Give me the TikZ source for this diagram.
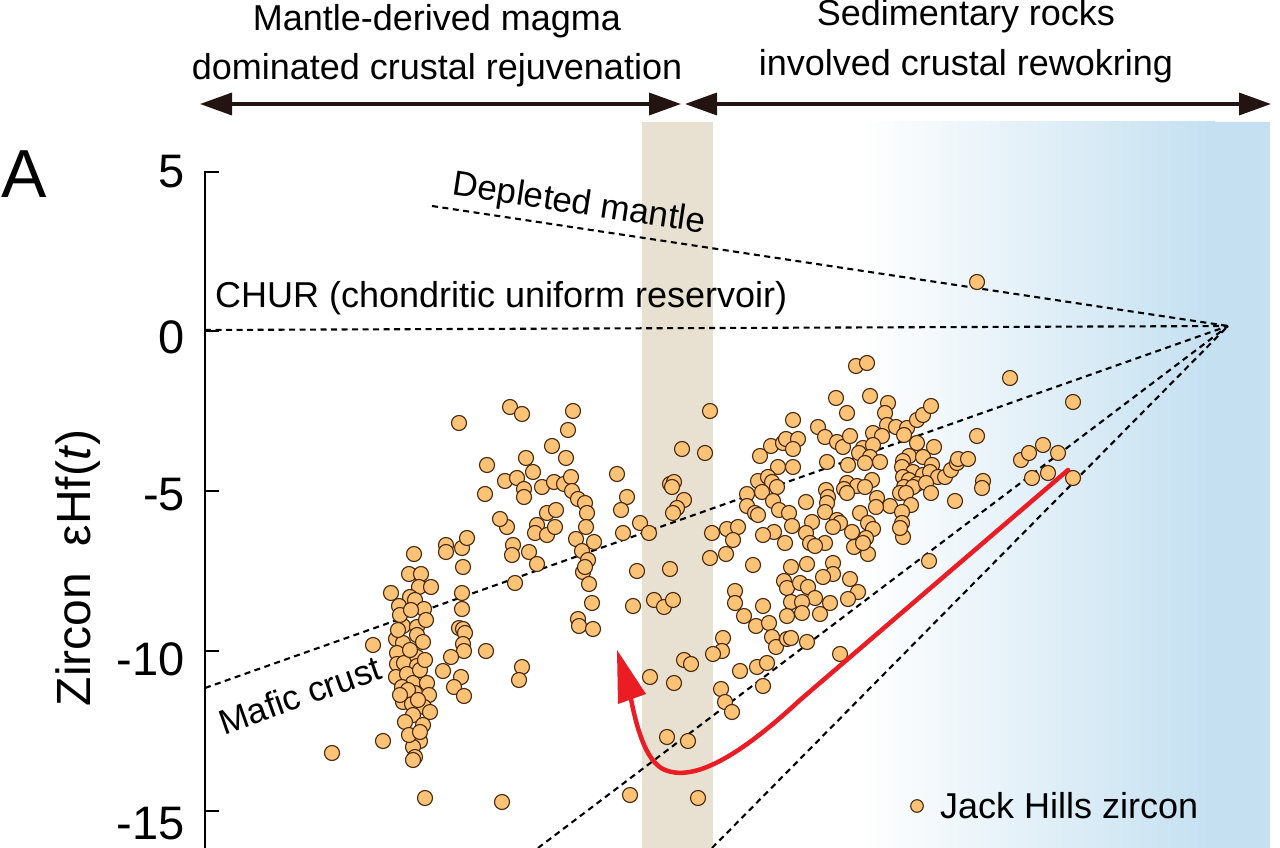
\documentclass[tikz,border=0pt]{standalone}
\usepackage{fontspec}
\setmainfont{Liberation Sans}
\usetikzlibrary{arrows.meta}
\definecolor{dotfill}{RGB}{252,194,118}
\definecolor{dotedge}{RGB}{70,40,15}
\definecolor{beigeband}{RGB}{232,225,210}
\definecolor{skyband}{RGB}{196,224,241}
\definecolor{arrowc}{RGB}{35,20,18}
\definecolor{redc}{RGB}{236,28,36}
\begin{document}
\begin{tikzpicture}[x=1pt,y=-1pt,
  zdot/.style={fill=dotfill,draw=dotedge,line width=1.1pt},
  refline/.style={dash pattern=on 6pt off 4.5pt, line width=2.1pt},
  dblarrow/.style={line width=3.5pt, draw=arrowc, arrows={Triangle[length=32pt 0,width=22pt 0]-Triangle[length=32pt 0,width=22pt 0]}},
  lbl/.style={font=\fontsize{36}{40}\selectfont, inner sep=0pt},
  ticklbl/.style={font=\fontsize{47}{50}\selectfont, inner sep=0pt, anchor=east},
  linelbl/.style={font=\fontsize{35}{38}\selectfont, inner sep=0pt},
]
\useasboundingbox (0,0) rectangle (1280,848);
% background bands
\fill[beigeband] (642,122) rectangle (713,848);
\shade[left color=white, right color=skyband] (860,122) rectangle (1215,848);
\fill[skyband] (1214,122) rectangle (1270,848);

% top arrows
\coordinate (la) at (200,104);
\coordinate (lb) at (681,104);
\coordinate (ra) at (685,104);
\coordinate (rb) at (1271,104);
\draw[dblarrow] (la) -- (lb);
\draw[dblarrow] (ra) -- (rb);
\node[lbl, anchor=base] (t1) at (437,31) {Mantle-derived magma};
\node[lbl, anchor=base] (t2) at (437,80) {dominated crustal rejuvenation};
\node[lbl, anchor=base] (t3) at (966,26) {Sedimentary rocks};
\node[lbl, anchor=base] (t4) at (966,76) {involved crustal rewokring};

% panel label and axis
\node[font=\fontsize{68}{70}\selectfont, inner sep=0pt, anchor=base west] (pA) at (1,197) {A};
\draw[line width=2.5pt] (219,172) -- (205,172) -- (205,848);
\foreach \ty in {331,491,651,811} \draw[line width=2.5pt] (205,\ty) -- (219,\ty);
\node[ticklbl] (y5) at (185,172) {5};
\node[ticklbl] (y0) at (185,337) {0};
\node[ticklbl] (ym5) at (185,495) {-5};
\node[ticklbl] (ym10) at (185,659) {-10};
\node[ticklbl] (ym15) at (185,824) {-15};
\node[font=\fontsize{48}{50}\selectfont, inner sep=0pt, rotate=90, anchor=base] (ylab) at (90,568) {Zircon\ \ εHf(\textit{t})};

% reference lines
\coordinate (P) at (1228,326);
\coordinate (dm) at (432,206);
\coordinate (ch) at (205,330);
\coordinate (mc) at (205,688);
\coordinate (l2) at (538,848);
\coordinate (l3) at (712,848);
\draw[refline] (dm) -- (P);
\draw[refline] (ch) -- (P);
\draw[refline] (mc) -- (P);
\draw[refline] (l2) -- (P);
\draw[refline] (l3) -- (P);
\node[linelbl, rotate=-8.6] (dmlab) at (579,205) {Depleted mantle};
\node[linelbl, anchor=base west, font=\fontsize{36}{38}\selectfont] (chlab) at (215,307) {CHUR (chondritic uniform reservoir)};
\node[linelbl, rotate=19.5] (mclab) at (300,695) {Mafic crust};

% zircon data
\foreach \x/\y in {
414/554, 446/545, 446/552, 462/548, 467/538, 463/567, 507/527, 537/525, 535/533, 547/535, 555/527, 513/545, 512/555, 529/552, 537/564, 515/583,
409/574, 421/574, 419/587, 431/587, 391/593, 410/597, 415/600, 399/606, 424/609, 462/593, 462/609, 403/626, 417/627, 459/628, 463/629, 465/633,
396/639, 417/635, 423/642, 403/643, 373/645, 463/644, 464/651, 486/651, 451/657, 443/671, 397/653, 417/657, 397/664, 404/663, 417/666, 396/677,
407/674, 461/677, 454/687, 464/696, 413/683, 427/683, 402/687, 415/693, 429/695, 403/702, 412/704, 424/707, 430/712, 413/715, 405/722, 423/725,
522/667, 519/680, 383/741, 332/753, 420/741, 413/747, 415/757, 413/760, 425/798, 502/802,
400/615, 410/650, 420/670, 408/690, 418/700, 398/630, 425/660, 409/735, 420/732, 426/620, 400/695, 411/610,
459/423, 510/407, 522/414, 573/411, 568/430, 552/446, 526/458, 533/472, 487/465, 566/458, 485/494, 505/481, 517/478, 524/489, 524/497, 542/487,
554/482, 564/484, 571/477, 572/491, 578/499, 585/503, 587/513, 617/474, 627/497, 621/510, 547/513, 556/510, 500/519, 576/539, 582/551, 594/542,
640/523, 649/533, 623/533, 682/449, 670/484, 674/482, 672/487, 684/500, 677/508, 673/513, 586/527, 588/560,
637/571, 670/569, 583/572, 585/567, 589/584, 592/603, 578/619, 579/626, 593/629, 633/606, 654/600, 664/607, 673/600, 684/660, 691/664, 650/677,
674/683, 723/638, 722/651, 713/654, 735/591, 735/603, 744/616, 756/626, 763/606, 769/623, 772/637, 776/647, 787/639, 791/638, 784/581, 787/588,
791/602, 787/616, 791/567, 740/671, 757/667, 767/663, 763/686, 721/689, 725/702, 732/712, 667/737, 688/741, 630/795, 698/798, 753/565,
856/366, 867/363, 1010/378, 1073/402, 836/398, 870/396, 888/403, 847/413, 885/413, 793/420, 818/427, 825/437, 837/442, 843/447, 850/436, 771/446,
760/456, 783/443, 786/439, 798/439, 793/449, 887/425, 896/427, 907/428, 904/435, 917/420, 923/415, 931/406, 873/433, 882/436, 863/448, 873/445,
859/453, 870/457, 880/462, 865/463, 917/443, 934/447, 977/436, 827/462, 848/465, 778/467, 793/467, 758/481, 768/477, 772/482, 777/487, 762/492,
747/494, 747/506, 755/513, 758/515, 773/501, 779/510, 789/513, 909/456, 903/461, 923/457, 932/465, 902/467, 913/472, 923/475, 930/472, 938/477,
945/477, 951/470, 957/463, 958/459, 968/459, 903/477, 909/480, 917/484, 904/487, 913/487, 926/483, 931/493, 900/493, 906/493, 911/505, 890/506,
847/483, 857/486, 844/489, 847/493, 872/480, 877/498, 876/507, 865/487, 826/490, 828/497, 827/503, 825/512, 806/502, 812/522, 837/520, 840/523,
833/527, 860/513, 868/523, 873/529, 852/532, 866/538, 854/547, 868/554, 863/543, 792/526, 774/532, 785/543, 763/535, 806/533, 810/543, 825/543,
815/546, 902/512, 902/523, 903/537, 900/528, 983/481, 982/488, 955/501, 1021/460, 1029/453, 1043/445, 1058/453, 1032/478, 1048/473, 1073/478,
712/533, 727/529, 738/527, 733/540, 710/558, 726/554, 705/453, 710/411,
929/561, 807/564, 833/563, 833/574, 823/577, 850/579, 858/592, 848/599, 800/583, 808/587, 815/598, 802/602, 802/613, 820/614, 830/603, 807/642, 840/654,
977/282}
  \draw[zdot] (\x,\y) circle[radius=7.5pt];

% red evolution arrow
\coordinate (rs) at (1068,470);
\coordinate (rk) at (800,700);
\coordinate (rm) at (665,770);
\coordinate (re) at (631,699);
\draw[redc, line width=4.5pt, line cap=round, line join=round] (rs) -- (rk) .. controls (730,765) and (690,780) .. (rm) .. controls (648,763) and (638,735) .. (re);
\fill[redc] (617,650) -- (618,704) -- (646,694) -- cycle;

% legend
\draw[zdot] (917,806) circle[radius=6.3pt];
\node[lbl, anchor=base west] (leg) at (940,818) {Jack Hills zircon};
\end{tikzpicture}
\end{document}
